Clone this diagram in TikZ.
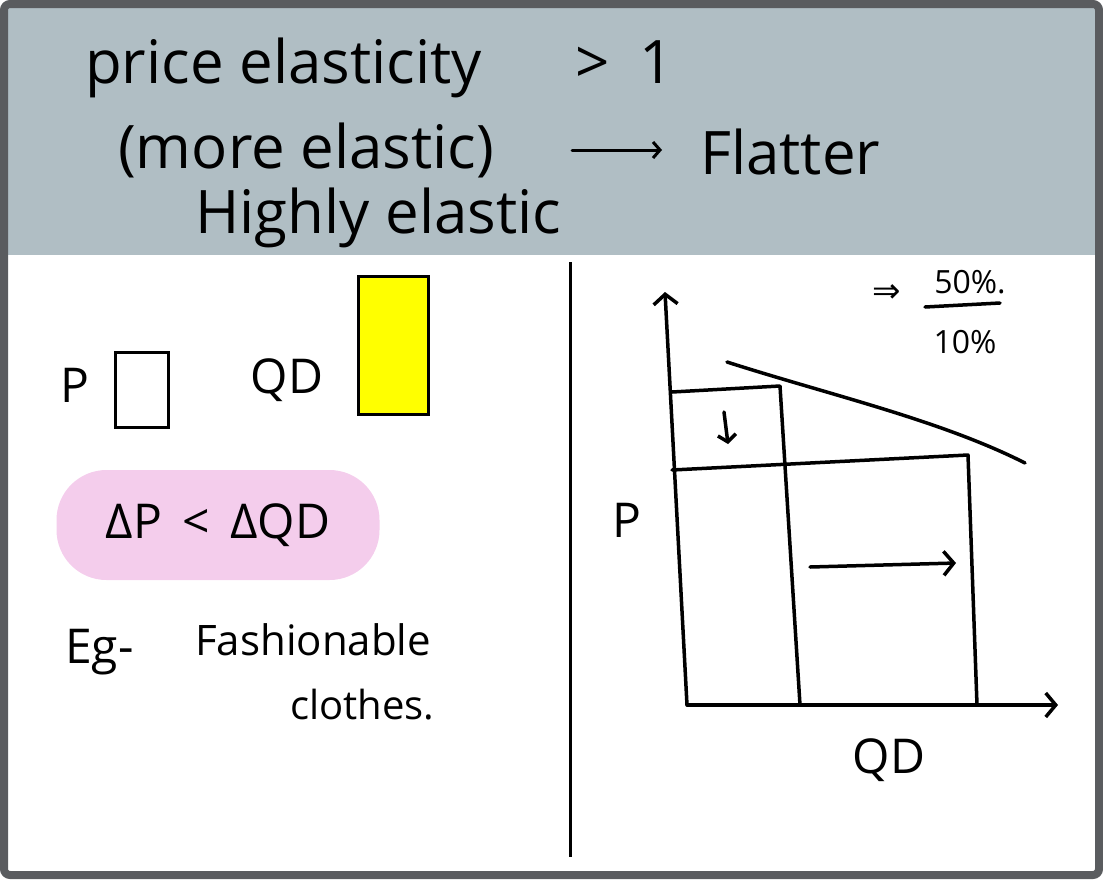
\documentclass[tikz,border=0pt]{standalone}
\usepackage{fontspec}
\setmainfont{Open Sans}
\newfontfamily\symfont{DejaVu Sans}
\usetikzlibrary{arrows.meta,positioning}
\definecolor{headgray}{RGB}{176,190,196}
\definecolor{framegray}{RGB}{90,92,95}
\definecolor{blobpink}{RGB}{244,205,236}
\definecolor{brightyellow}{RGB}{255,255,0}

\begin{document}
\begin{tikzpicture}[
    x=1pt, y=-1pt,
    headhand/.style={font=\fontsize{60}{70}\selectfont, inner sep=0pt},
    hand/.style={font=\fontsize{48}{56}\selectfont, inner sep=0pt},
    smallhand/.style={font=\fontsize{32}{38}\selectfont, inner sep=0pt},
    ink/.style={line width=3.5pt, line cap=round, line join=round},
    barb/.style={-{Straight Barb[length=10pt,width=24pt,line width=3.5pt]}},
    boxed/.style={draw, line width=3pt, inner sep=0pt}
  ]
  \useasboundingbox (0,0) rectangle (1103,879);

  % Frame and header band
  \fill[headgray] (8,8) rectangle (1095,255);
  \draw[framegray, line width=8pt, rounded corners=6pt] (4,4) rectangle (1099,875);

  % Header text
  \node[headhand, anchor=west] (title) at (85,68) {price elasticity};
  \node[headhand, anchor=west] (gtone) at (575,62) {>\hspace{30pt}1};
  \node[headhand, anchor=west] (moreel) at (118,150) {(more elastic)};
  \node[headhand, anchor=west] (flatter) at (700,152) {Flatter};
  \node[headhand, anchor=west] (highly) at (195,218) {Highly elastic};
  \coordinate (arrs) at (572,150);
  \coordinate (arre) at (662,150);
  \draw[ink, line width=3pt, -{Straight Barb[length=7pt,width=16pt,line width=3pt]}] (arrs) -- (arre);

  % Divider
  \coordinate (divtop) at (570,262);
  \coordinate (divbot) at (570,857);
  \draw[line width=3pt] (divtop) -- (divbot);

  % Left panel
  \node[hand] (plabel) at (75,385) {P};
  \node[boxed, minimum width=53pt, minimum height=75pt] (pbox) at (142,390) {};
  \node[hand] (qdlabel) at (287,380) {QD};
  \node[boxed, fill=brightyellow, minimum width=70pt, minimum height=138pt] (qdbox) at (393,345) {};
  \node[hand, fill=blobpink, rounded corners=50pt, minimum width=323pt,
        minimum height=110pt] (blob) at (218,525) {Δ{}P \,<\, Δ{}QD};
  \node[hand, anchor=west] (eg) at (65,652) {Eg-};
  \node[hand, font=\fontsize{42}{50}\selectfont, anchor=west] (fashion) at (195,640) {Fashionable};
  \node[hand, font=\fontsize{40}{48}\selectfont, anchor=west] (clothes) at (290,705) {clothes.};

  % Right panel: graph
  \coordinate (origin) at (687,705);
  \coordinate (ytop) at (665,292);
  \coordinate (xend) at (1058,705);
  \draw[ink, barb] (origin) -- (ytop);
  \draw[ink, barb] (origin) -- (xend);

  \coordinate (pa) at (672,392);
  \coordinate (pacorner) at (780,386);
  \coordinate (qa) at (800,705);
  \draw[ink] (pa) -- (pacorner) -- (qa);

  \coordinate (pb) at (672,470);
  \coordinate (pbcorner) at (968,455);
  \coordinate (qb) at (977,705);
  \draw[ink] (pb) -- (pbcorner) -- (qb);

  \coordinate (dstart) at (727,362);
  \coordinate (dend) at (1025,463);
  \draw[ink] (dstart) .. controls (830,395) and (940,420) .. (dend);

  \coordinate (dropstart) at (724,412);
  \coordinate (dropend) at (728,444);
  \draw[ink, -{Straight Barb[length=7pt,width=18pt,line width=3.5pt]}] (dropstart) -- (dropend);

  \coordinate (shiftstart) at (810,567);
  \coordinate (shiftend) at (956,563);
  \draw[ink, barb] (shiftstart) -- (shiftend);

  \node[hand] (axp) at (627,520) {P};
  \node[hand] (axqd) at (889,760) {QD};

  % Ratio note
  \node[smallhand, font=\symfont\fontsize{34}{40}\selectfont] (implies) at (887,294) {⇒};
  \node[smallhand] (fiftyp) at (970,282) {50\%.};
  \node[smallhand] (tenp) at (965,342) {10\%};
  \coordinate (fracl) at (925,307);
  \coordinate (fracr) at (1000,303);
  \draw[ink] (fracl) -- (fracr);
\end{tikzpicture}
\end{document}
